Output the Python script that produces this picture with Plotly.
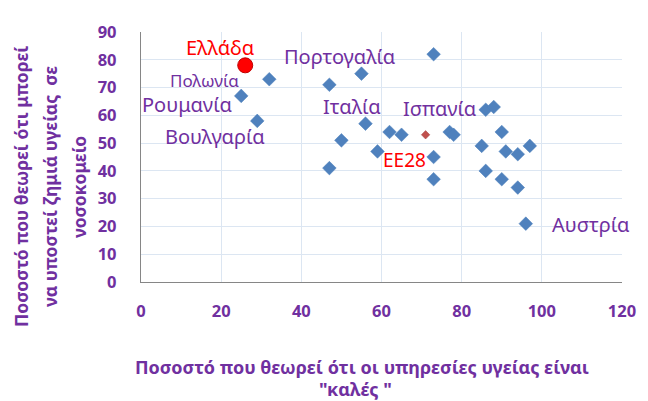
import plotly.graph_objects as go

# Data (x: % who consider health services "good", y: % who think they may suffer harm in hospital)
country_x = [26, 32, 25, 29, 47, 55, 56, 50, 59, 47, 73, 62, 65, 77, 78, 73, 73,
             86, 88, 90, 85, 91, 94, 97, 86, 90, 94, 96]
country_y = [78, 73, 67, 58, 71, 75, 57, 51, 47, 41, 82, 54, 53, 54, 53, 45, 37,
             62, 63, 54, 49, 47, 46, 49, 40, 37, 34, 21]
greece_index = 0
eu28_x = [71]
eu28_y = [53]

# label text for selected points: (index in country lists or 'EU'), text
labels = [
    (0, "Ελλάδα"),
    (1, "Πολωνία"),
    (2, "Ρουμανία"),
    (3, "Βουλγαρία"),
    (5, "Πορτογαλία"),
    (6, "Ιταλία"),
    (13, "Ισπανία"),
    ("EU", "ΕΕ28"),
    (27, "Αυστρία"),
]
x_ticks = [0, 20, 40, 60, 80, 100, 120]
y_ticks = [0, 10, 20, 30, 40, 50, 60, 70, 80, 90]
x_title = ["Ποσοστό που θεωρεί ότι οι υπηρεσίες υγείας είναι", "\"καλές \""]
y_title = ["Ποσοστό που θεωρεί ότι μπορεί", "να υποστεί ζημιά υγείας  σε", "νοσοκομείο"]

PURPLE = "#7030A0"
FONT = "Noto Sans"

# styles for labels: xshift, yshift, size, color
label_style = {
    "Ελλάδα": (-25, 18, 20, "#FF0000"),
    "Πολωνία": (-65, -1, 17, PURPLE),
    "Ρουμανία": (-54, -9, 20, PURPLE),
    "Βουλγαρία": (-42, -16, 20, PURPLE),
    "Πορτογαλία": (-21, 17, 20, PURPLE),
    "Ιταλία": (-13, 17, 20, PURPLE),
    "Ισπανία": (-10, 24, 20, PURPLE),
    "ΕΕ28": (-21, -25, 19, "#FF0000"),
    "Αυστρία": (65, -1, 20, PURPLE),
}

others_x = [v for i, v in enumerate(country_x) if i != greece_index]
others_y = [v for i, v in enumerate(country_y) if i != greece_index]

fig = go.Figure()
fig.add_trace(go.Scatter(
    x=others_x, y=others_y, mode="markers",
    marker=dict(symbol="diamond", size=10.5, color="#4F81BD",
                line=dict(width=0.5, color="#4A7EBB")),
    hoverinfo="x+y", showlegend=False))
fig.add_trace(go.Scatter(
    x=eu28_x, y=eu28_y, mode="markers",
    marker=dict(symbol="diamond", size=6.5, color="#C0504D",
                line=dict(width=0.5, color="#A04040")),
    showlegend=False))
fig.add_trace(go.Scatter(
    x=[country_x[greece_index]], y=[country_y[greece_index]], mode="markers",
    marker=dict(symbol="circle", size=15, color="#FF0000",
                line=dict(width=1, color="#C00000")),
    showlegend=False))

annotations = []
for idx, text in labels:
    if idx == "EU":
        ax, ay = eu28_x[0], eu28_y[0]
    else:
        ax, ay = country_x[idx], country_y[idx]
    xs, ys, sz, col = label_style[text]
    annotations.append(dict(x=ax, y=ay, xref="x", yref="y", text=text,
                            showarrow=False, xshift=xs, yshift=ys,
                            font=dict(family=FONT, size=sz, color=col)))

# y-axis title lines (rotated)
for i, line in enumerate(y_title):
    annotations.append(dict(x=0, y=0.5, xref="paper", yref="paper", text="<b>%s</b>" % line,
                            showarrow=False, textangle=-90, xanchor="center", yanchor="middle",
                            xshift=-120 + 29 * i, yshift=-30,
                            font=dict(family=FONT, size=17.5, color=PURPLE)))
# x-axis title lines
for i, line in enumerate(x_title):
    annotations.append(dict(x=0.5, y=0, xref="paper", yref="paper", text="<b>%s</b>" % line,
                            showarrow=False, xanchor="center", yanchor="middle",
                            xshift=-20 - 6 * i, yshift=-85 - 22 * i, borderpad=0,
                            font=dict(family=FONT, size=18, color=PURPLE)))

fig.update_layout(
    width=640, height=393,
    margin=dict(l=133, r=19, t=13, b=119),
    paper_bgcolor="white", plot_bgcolor="white",
    showlegend=False,
    annotations=annotations,
    font=dict(family=FONT, color=PURPLE),
    xaxis=dict(range=[0, 120], tickvals=x_ticks, ticktext=["<b>%d</b>" % v for v in x_ticks],
               tickfont=dict(family=FONT, size=16.5, color=PURPLE),
               showgrid=True, gridcolor="#DCE6F2", gridwidth=1,
               showline=True, linecolor="#868686", linewidth=1.3,
               zeroline=False, ticks="", ticklabelstandoff=14),
    yaxis=dict(range=[0, 90], tickvals=y_ticks, ticktext=["<b>%d</b>" % v for v in y_ticks],
               tickfont=dict(family=FONT, size=16.5, color=PURPLE),
               showgrid=True, gridcolor="#DCE6F2", gridwidth=1.3,
               showline=True, linecolor="#868686", linewidth=1.3,
               zeroline=False, ticks="", ticklabelstandoff=20),
)

fig.write_html("out.html")
